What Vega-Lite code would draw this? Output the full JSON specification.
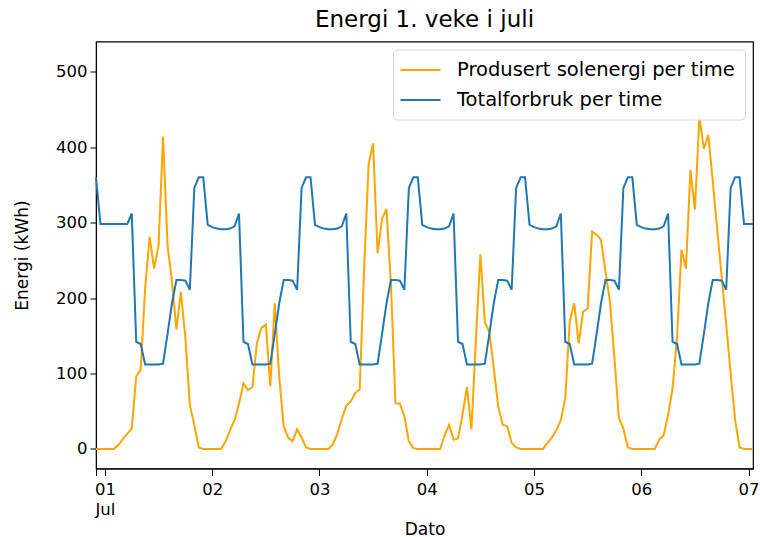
{
  "$schema": "https://vega.github.io/schema/vega-lite/v6.json",
  "width": 657,
  "height": 427,
  "autosize": {"type": "none"},
  "padding": {"left": 96, "top": 41.5, "right": 7, "bottom": 68.5},
  "background": "white",
  "title": {"text": "Energi 1. veke i juli", "font": "DejaVu Sans", "fontSize": 23, "fontWeight": "normal", "color": "#000", "offset": 10},
  "config": {
    "view": {"stroke": "#000", "strokeWidth": 1.2},
    "axis": {"labelFont": "DejaVu Sans", "titleFont": "DejaVu Sans", "labelFontSize": 16.5, "titleFontSize": 17, "labelColor": "#000", "titleColor": "#000", "tickColor": "#000", "domainColor": "#000", "grid": false, "tickSize": 6, "titleFontWeight": "normal"}
  },
  "data": {"values": [
    {"t":"2023-06-30T22:00Z","sol":0,"forbruk":360},
    {"t":"2023-06-30T23:00Z","sol":0,"forbruk":298},
    {"t":"2023-07-01T00:00Z","sol":0,"forbruk":298},
    {"t":"2023-07-01T01:00Z","sol":0,"forbruk":298},
    {"t":"2023-07-01T02:00Z","sol":0,"forbruk":298},
    {"t":"2023-07-01T03:00Z","sol":5,"forbruk":298},
    {"t":"2023-07-01T04:00Z","sol":13,"forbruk":298},
    {"t":"2023-07-01T05:00Z","sol":20,"forbruk":298},
    {"t":"2023-07-01T06:00Z","sol":27,"forbruk":312},
    {"t":"2023-07-01T07:00Z","sol":96,"forbruk":142},
    {"t":"2023-07-01T08:00Z","sol":105,"forbruk":139},
    {"t":"2023-07-01T09:00Z","sol":213,"forbruk":112},
    {"t":"2023-07-01T10:00Z","sol":281,"forbruk":112},
    {"t":"2023-07-01T11:00Z","sol":239,"forbruk":112},
    {"t":"2023-07-01T12:00Z","sol":270,"forbruk":112},
    {"t":"2023-07-01T13:00Z","sol":414,"forbruk":113},
    {"t":"2023-07-01T14:00Z","sol":270,"forbruk":152},
    {"t":"2023-07-01T15:00Z","sol":222,"forbruk":193},
    {"t":"2023-07-01T16:00Z","sol":158,"forbruk":224},
    {"t":"2023-07-01T17:00Z","sol":208,"forbruk":224},
    {"t":"2023-07-01T18:00Z","sol":147,"forbruk":223},
    {"t":"2023-07-01T19:00Z","sol":58,"forbruk":211},
    {"t":"2023-07-01T20:00Z","sol":32,"forbruk":346},
    {"t":"2023-07-01T21:00Z","sol":2,"forbruk":360},
    {"t":"2023-07-01T22:00Z","sol":0,"forbruk":360},
    {"t":"2023-07-01T23:00Z","sol":0,"forbruk":297},
    {"t":"2023-07-02T00:00Z","sol":0,"forbruk":294},
    {"t":"2023-07-02T01:00Z","sol":0,"forbruk":292},
    {"t":"2023-07-02T02:00Z","sol":0,"forbruk":291},
    {"t":"2023-07-02T03:00Z","sol":10,"forbruk":291},
    {"t":"2023-07-02T04:00Z","sol":25,"forbruk":292},
    {"t":"2023-07-02T05:00Z","sol":38,"forbruk":295},
    {"t":"2023-07-02T06:00Z","sol":60,"forbruk":312},
    {"t":"2023-07-02T07:00Z","sol":87,"forbruk":142},
    {"t":"2023-07-02T08:00Z","sol":78,"forbruk":139},
    {"t":"2023-07-02T09:00Z","sol":82,"forbruk":112},
    {"t":"2023-07-02T10:00Z","sol":140,"forbruk":112},
    {"t":"2023-07-02T11:00Z","sol":160,"forbruk":112},
    {"t":"2023-07-02T12:00Z","sol":165,"forbruk":112},
    {"t":"2023-07-02T13:00Z","sol":83,"forbruk":113},
    {"t":"2023-07-02T14:00Z","sol":193,"forbruk":152},
    {"t":"2023-07-02T15:00Z","sol":95,"forbruk":193},
    {"t":"2023-07-02T16:00Z","sol":30,"forbruk":224},
    {"t":"2023-07-02T17:00Z","sol":15,"forbruk":224},
    {"t":"2023-07-02T18:00Z","sol":10,"forbruk":223},
    {"t":"2023-07-02T19:00Z","sol":26,"forbruk":211},
    {"t":"2023-07-02T20:00Z","sol":15,"forbruk":346},
    {"t":"2023-07-02T21:00Z","sol":2,"forbruk":360},
    {"t":"2023-07-02T22:00Z","sol":0,"forbruk":360},
    {"t":"2023-07-02T23:00Z","sol":0,"forbruk":297},
    {"t":"2023-07-03T00:00Z","sol":0,"forbruk":294},
    {"t":"2023-07-03T01:00Z","sol":0,"forbruk":292},
    {"t":"2023-07-03T02:00Z","sol":0,"forbruk":291},
    {"t":"2023-07-03T03:00Z","sol":6,"forbruk":291},
    {"t":"2023-07-03T04:00Z","sol":20,"forbruk":292},
    {"t":"2023-07-03T05:00Z","sol":40,"forbruk":295},
    {"t":"2023-07-03T06:00Z","sol":57,"forbruk":312},
    {"t":"2023-07-03T07:00Z","sol":63,"forbruk":142},
    {"t":"2023-07-03T08:00Z","sol":74,"forbruk":139},
    {"t":"2023-07-03T09:00Z","sol":79,"forbruk":112},
    {"t":"2023-07-03T10:00Z","sol":240,"forbruk":112},
    {"t":"2023-07-03T11:00Z","sol":378,"forbruk":112},
    {"t":"2023-07-03T12:00Z","sol":405,"forbruk":112},
    {"t":"2023-07-03T13:00Z","sol":259,"forbruk":113},
    {"t":"2023-07-03T14:00Z","sol":305,"forbruk":152},
    {"t":"2023-07-03T15:00Z","sol":318,"forbruk":193},
    {"t":"2023-07-03T16:00Z","sol":217,"forbruk":224},
    {"t":"2023-07-03T17:00Z","sol":60,"forbruk":224},
    {"t":"2023-07-03T18:00Z","sol":60,"forbruk":223},
    {"t":"2023-07-03T19:00Z","sol":43,"forbruk":211},
    {"t":"2023-07-03T20:00Z","sol":10,"forbruk":346},
    {"t":"2023-07-03T21:00Z","sol":1,"forbruk":360},
    {"t":"2023-07-03T22:00Z","sol":0,"forbruk":360},
    {"t":"2023-07-03T23:00Z","sol":0,"forbruk":297},
    {"t":"2023-07-04T00:00Z","sol":0,"forbruk":294},
    {"t":"2023-07-04T01:00Z","sol":0,"forbruk":292},
    {"t":"2023-07-04T02:00Z","sol":0,"forbruk":291},
    {"t":"2023-07-04T03:00Z","sol":0,"forbruk":291},
    {"t":"2023-07-04T04:00Z","sol":18,"forbruk":292},
    {"t":"2023-07-04T05:00Z","sol":32,"forbruk":295},
    {"t":"2023-07-04T06:00Z","sol":12,"forbruk":312},
    {"t":"2023-07-04T07:00Z","sol":14,"forbruk":142},
    {"t":"2023-07-04T08:00Z","sol":45,"forbruk":139},
    {"t":"2023-07-04T09:00Z","sol":82,"forbruk":112},
    {"t":"2023-07-04T10:00Z","sol":26,"forbruk":112},
    {"t":"2023-07-04T11:00Z","sol":145,"forbruk":112},
    {"t":"2023-07-04T12:00Z","sol":258,"forbruk":112},
    {"t":"2023-07-04T13:00Z","sol":168,"forbruk":113},
    {"t":"2023-07-04T14:00Z","sol":155,"forbruk":152},
    {"t":"2023-07-04T15:00Z","sol":107,"forbruk":193},
    {"t":"2023-07-04T16:00Z","sol":56,"forbruk":224},
    {"t":"2023-07-04T17:00Z","sol":32,"forbruk":224},
    {"t":"2023-07-04T18:00Z","sol":30,"forbruk":223},
    {"t":"2023-07-04T19:00Z","sol":8,"forbruk":211},
    {"t":"2023-07-04T20:00Z","sol":2,"forbruk":346},
    {"t":"2023-07-04T21:00Z","sol":0,"forbruk":360},
    {"t":"2023-07-04T22:00Z","sol":0,"forbruk":360},
    {"t":"2023-07-04T23:00Z","sol":0,"forbruk":297},
    {"t":"2023-07-05T00:00Z","sol":0,"forbruk":294},
    {"t":"2023-07-05T01:00Z","sol":0,"forbruk":292},
    {"t":"2023-07-05T02:00Z","sol":0,"forbruk":291},
    {"t":"2023-07-05T03:00Z","sol":8,"forbruk":291},
    {"t":"2023-07-05T04:00Z","sol":15,"forbruk":292},
    {"t":"2023-07-05T05:00Z","sol":25,"forbruk":295},
    {"t":"2023-07-05T06:00Z","sol":38,"forbruk":312},
    {"t":"2023-07-05T07:00Z","sol":67,"forbruk":142},
    {"t":"2023-07-05T08:00Z","sol":169,"forbruk":139},
    {"t":"2023-07-05T09:00Z","sol":193,"forbruk":112},
    {"t":"2023-07-05T10:00Z","sol":140,"forbruk":112},
    {"t":"2023-07-05T11:00Z","sol":182,"forbruk":112},
    {"t":"2023-07-05T12:00Z","sol":186,"forbruk":112},
    {"t":"2023-07-05T13:00Z","sol":288,"forbruk":113},
    {"t":"2023-07-05T14:00Z","sol":284,"forbruk":152},
    {"t":"2023-07-05T15:00Z","sol":277,"forbruk":193},
    {"t":"2023-07-05T16:00Z","sol":235,"forbruk":224},
    {"t":"2023-07-05T17:00Z","sol":195,"forbruk":224},
    {"t":"2023-07-05T18:00Z","sol":120,"forbruk":223},
    {"t":"2023-07-05T19:00Z","sol":41,"forbruk":211},
    {"t":"2023-07-05T20:00Z","sol":27,"forbruk":346},
    {"t":"2023-07-05T21:00Z","sol":2,"forbruk":360},
    {"t":"2023-07-05T22:00Z","sol":0,"forbruk":360},
    {"t":"2023-07-05T23:00Z","sol":0,"forbruk":297},
    {"t":"2023-07-06T00:00Z","sol":0,"forbruk":294},
    {"t":"2023-07-06T01:00Z","sol":0,"forbruk":292},
    {"t":"2023-07-06T02:00Z","sol":0,"forbruk":291},
    {"t":"2023-07-06T03:00Z","sol":0,"forbruk":291},
    {"t":"2023-07-06T04:00Z","sol":12,"forbruk":292},
    {"t":"2023-07-06T05:00Z","sol":18,"forbruk":295},
    {"t":"2023-07-06T06:00Z","sol":45,"forbruk":312},
    {"t":"2023-07-06T07:00Z","sol":80,"forbruk":142},
    {"t":"2023-07-06T08:00Z","sol":147,"forbruk":139},
    {"t":"2023-07-06T09:00Z","sol":264,"forbruk":112},
    {"t":"2023-07-06T10:00Z","sol":239,"forbruk":112},
    {"t":"2023-07-06T11:00Z","sol":370,"forbruk":112},
    {"t":"2023-07-06T12:00Z","sol":317,"forbruk":112},
    {"t":"2023-07-06T13:00Z","sol":440,"forbruk":113},
    {"t":"2023-07-06T14:00Z","sol":398,"forbruk":152},
    {"t":"2023-07-06T15:00Z","sol":416,"forbruk":193},
    {"t":"2023-07-06T16:00Z","sol":355,"forbruk":224},
    {"t":"2023-07-06T17:00Z","sol":290,"forbruk":224},
    {"t":"2023-07-06T18:00Z","sol":228,"forbruk":223},
    {"t":"2023-07-06T19:00Z","sol":165,"forbruk":211},
    {"t":"2023-07-06T20:00Z","sol":100,"forbruk":346},
    {"t":"2023-07-06T21:00Z","sol":38,"forbruk":360},
    {"t":"2023-07-06T22:00Z","sol":2,"forbruk":360},
    {"t":"2023-07-06T23:00Z","sol":0,"forbruk":298},
    {"t":"2023-07-07T00:00Z","sol":0,"forbruk":298},
    {"t":"2023-07-07T01:00Z","sol":0,"forbruk":298}
  ]},
  "transform": [{"fold": ["sol", "forbruk"], "as": ["serie", "verdi"]}],
  "mark": {"type": "line", "strokeWidth": 2},
  "encoding": {
    "x": {
      "field": "t", "type": "temporal",
      "scale": {"type": "utc", "domain": [{"year": 2023, "month": 6, "date": 30, "hours": 22, "utc": true}, {"year": 2023, "month": 7, "date": 7, "hours": 1, "utc": true}]},
      "axis": {
        "title": "Dato", "titlePadding": 3, "tickSize": 7,
        "values": [
          {"year": 2023, "month": 6, "date": 30, "hours": 22, "utc": true},
          {"year": 2023, "month": 7, "date": 1, "utc": true},
          {"year": 2023, "month": 7, "date": 2, "utc": true},
          {"year": 2023, "month": 7, "date": 3, "utc": true},
          {"year": 2023, "month": 7, "date": 4, "utc": true},
          {"year": 2023, "month": 7, "date": 5, "utc": true},
          {"year": 2023, "month": 7, "date": 6, "utc": true},
          {"year": 2023, "month": 7, "date": 7, "utc": true}
        ],
        "labelExpr": "utchours(datum.value) != 0 ? '' : (utcdate(datum.value) == 1 ? ['01', 'Jul'] : utcFormat(datum.value, '%d'))",
        "labelPadding": 6, "labelLineHeight": 20, "labelFlush": false, "labelOverlap": false
      }
    },
    "y": {
      "field": "verdi", "type": "quantitative",
      "scale": {"domain": [-26, 540], "nice": false, "zero": false},
      "axis": {"title": "Energi (kWh)", "values": [0, 100, 200, 300, 400, 500], "titlePadding": 24, "labelPadding": 3}
    },
    "color": {
      "field": "serie", "type": "nominal",
      "scale": {"domain": ["sol", "forbruk"], "range": ["#FFA500", "#1f77b4"]},
      "legend": {
        "orient": "top-right", "offset": 8, "title": null,
        "labelExpr": "datum.value == 'sol' ? 'Produsert solenergi per time' : 'Totalforbruk per time'",
        "symbolType": "M-2,0H2", "symbolSize": 400, "symbolStrokeWidth": 2, "symbolOffset": 7,
        "labelFont": "DejaVu Sans", "labelFontSize": 19.5, "labelColor": "#000", "labelOffset": 25.5, "labelLimit": 500,
        "strokeColor": "#d6d6d6", "fillColor": "rgba(255,255,255,0.8)", "cornerRadius": 4, "padding": 9.5, "rowPadding": 9
      }
    }
  }
}
